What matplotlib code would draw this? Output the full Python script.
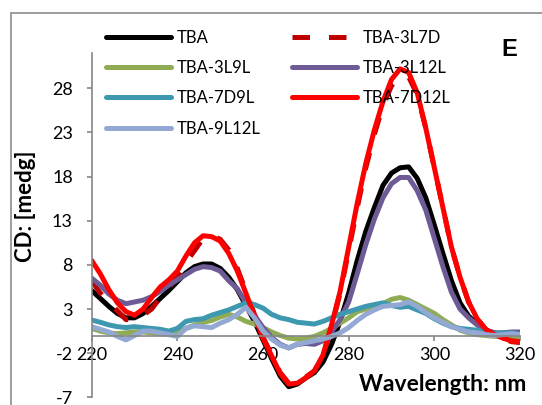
import matplotlib
matplotlib.use("Agg")
import matplotlib.pyplot as plt
from matplotlib.patches import Rectangle

plt.rcParams['font.family'] = ['Lato', 'DejaVu Sans']
plt.rcParams['axes.unicode_minus'] = False

wl = list(range(220, 322, 2))

tba = [5.1, 4.2, 3.3, 2.5, 2.0, 2.0, 2.5, 3.3, 4.2, 5.1, 6.1, 7.1, 7.8, 8.1, 8.1, 7.6,
       6.6, 5.2, 3.4, 1.6, -0.5, -2.6, -4.6, -5.8, -5.5, -4.8, -4.2, -3.0, -1.0, 1.6,
       4.8, 8.5, 11.8, 14.5, 17.0, 18.4, 19.0, 19.1, 17.8, 15.6, 12.5, 9.3, 6.2, 3.7,
       2.2, 1.3, 0.6, 0.3, 0.1, 0.0, -0.1]
tba_3l7d = [6.2, 4.8, 3.8, 2.8, 1.8, 1.9, 2.3, 3.0, 4.3, 5.5, 6.6, 8.3, 9.6, 11.0, 11.3,
            10.9, 9.7, 7.6, 5.0, 2.4, -0.2, -2.2, -4.2, -5.4, -5.3, -4.7, -4.0, -2.3, 1.0,
            4.8, 9.6, 14.5, 19.0, 22.8, 26.0, 28.3, 29.4, 29.3, 27.3, 23.5, 19.0, 14.5,
            10.0, 6.6, 3.8, 1.9, 0.7, 0.1, -0.3, -0.7, -0.8]
tba_3l9l = [0.8, 0.5, 0.3, 0.2, 0.3, 0.4, 0.4, 0.3, 0.2, 0.2, 0.4, 0.8, 1.2, 1.5, 1.7,
            2.1, 2.4, 2.1, 1.6, 1.3, 0.9, 0.4, 0.0, -0.3, -0.4, -0.3, -0.1, 0.3, 0.8,
            1.4, 2.0, 2.7, 3.0, 3.2, 3.6, 4.1, 4.3, 4.0, 3.5, 3.0, 2.5, 1.8, 1.2, 0.6,
            0.3, 0.1, 0.0, -0.1, 0.0, -0.2, -0.3]
tba_3l12l = [6.5, 5.7, 4.7, 4.0, 3.6, 3.8, 4.0, 4.4, 5.0, 5.7, 6.3, 6.9, 7.5, 7.8, 7.7,
             7.3, 6.2, 5.3, 3.7, 2.3, 0.9, -0.2, -1.0, -1.4, -1.0, -0.9, -1.0, -0.6, 0.4,
             1.8, 3.8, 7.0, 10.3, 13.2, 15.6, 17.2, 17.9, 17.9, 16.4, 14.2, 11.0, 7.8,
             4.9, 3.0, 2.0, 1.2, 0.6, 0.3, 0.3, 0.4, 0.4]
tba_7d9l = [1.75, 1.5, 1.2, 1.0, 0.9, 1.0, 0.9, 0.8, 0.7, 0.5, 0.8, 1.6, 1.8, 1.9, 2.3,
            2.6, 2.9, 3.3, 3.7, 3.5, 3.1, 2.4, 2.0, 1.8, 1.5, 1.4, 1.3, 1.6, 2.0, 2.4,
            2.7, 3.0, 3.3, 3.5, 3.7, 3.4, 3.2, 3.3, 2.9, 2.5, 1.9, 1.4, 1.0, 0.8, 0.7,
            0.6, 0.4, 0.2, 0.3, 0.3, 0.1]
tba_7d12l = [8.5, 7.0, 5.2, 3.7, 2.7, 2.3, 3.0, 4.3, 5.5, 6.3, 7.3, 9.0, 10.5, 11.3,
             11.2, 10.7, 9.3, 7.3, 4.8, 2.2, -0.3, -2.3, -4.3, -5.5, -5.4, -4.8, -4.0,
             -2.2, 1.2, 5.0, 10.0, 15.0, 19.5, 23.3, 26.5, 29.0, 30.2, 29.8, 27.5, 23.5,
             19.0, 14.5, 10.0, 6.6, 3.8, 1.9, 0.7, 0.1, -0.3, -0.6, -0.7]
tba_9l12l = [1.0, 0.7, 0.4, -0.1, -0.5, 0.0, 0.5, 0.5, 0.3, 0.1, -0.1, 0.8, 1.1, 1.0,
             0.9, 1.4, 1.8, 2.4, 3.2, 2.0, 0.5, -0.4, -1.1, -1.4, -1.0, -0.8, -0.6, -0.4,
             -0.1, 0.3, 0.9, 1.7, 2.4, 2.9, 3.3, 3.4, 3.5, 3.8, 3.3, 2.6, 2.0, 1.5, 1.0,
             0.7, 0.4, 0.3, 0.1, 0.0, 0.1, 0.2, 0.1]

names = ['TBA', 'TBA-3L7D', 'TBA-3L9L', 'TBA-3L12L', 'TBA-7D9L', 'TBA-7D12L', 'TBA-9L12L']
series = [tba, tba_3l7d, tba_3l9l, tba_3l12l, tba_7d9l, tba_7d12l, tba_9l12l]
colors = ['#000000', '#c00000', '#8fac55', '#6e5b96', '#3d98b0', '#ff0000', '#93a9d3']
styles = ['-', (0, (3.5, 3.8)), '-', '-', '-', '-', '-']

fig = plt.figure(figsize=(5.42, 4.05), dpi=100)
ax = fig.add_axes([91.7 / 542, 1 - 397.3 / 405, (520 - 91.7) / 542, (397.3 - 53) / 405])

lines = {}
for n, s, c, ls in zip(names, series, colors, styles):
    ln, = ax.plot(wl, s, color=c, lw=3.6, ls=ls, label=n, solid_capstyle='round')
    lines[n] = ln

ax.set_xlim(220, 320)
ax.set_ylim(-7, 32)
ax.set_xticks(range(220, 321, 20))
ax.set_yticks(range(-7, 29, 5))

grey = '#868686'
for sp in ['top', 'right']:
    ax.spines[sp].set_visible(False)
ax.spines['bottom'].set_position(('data', 0))
ax.spines['left'].set_color(grey)
ax.spines['bottom'].set_color(grey)
ax.spines['left'].set_linewidth(1.2)
ax.spines['bottom'].set_linewidth(1.2)
ax.tick_params(direction='out', length=3.6, width=1.2, color=grey, labelsize=13)
ax.tick_params(axis='x', pad=5)
ax.tick_params(axis='y', pad=10)
ax.patch.set_alpha(0)

ax.set_ylabel('CD: [medg]', fontsize=16, fontweight='bold')
ax.yaxis.set_label_coords((36 - 91.7) / 428.3, (397.3 - 206) / 344.3)
ax.set_xlabel('Wavelength: nm', fontsize=16.5, fontweight='bold')
ax.xaxis.set_label_coords((443 - 91.7) / 428.3, (397.3 - 374) / 344.3)

order = ['TBA', 'TBA-3L9L', 'TBA-7D9L', 'TBA-9L12L', 'TBA-3L7D', 'TBA-3L12L', 'TBA-7D12L']
ax.legend([lines[k] for k in order], order, ncol=2, loc='upper left',
          bbox_to_anchor=(106 / 542, 1 - 30 / 405), bbox_transform=fig.transFigure,
          frameon=False, fontsize=12, handlelength=3.9, handletextpad=0.35,
          columnspacing=1.9, labelspacing=0.85, borderpad=0, borderaxespad=0)

fig.text(509 / 542, 1 - 50 / 405, 'E', fontsize=17, fontweight='bold',
         family='Liberation Sans', ha='center', va='center')

fig.patches.append(Rectangle((11 / 542, -0.1), 1.2, 1 - 13 / 405 + 0.1, fill=False,
                             edgecolor='#8c8c8c', lw=1.2, transform=fig.transFigure))

fig.savefig('out.png', dpi=100)
